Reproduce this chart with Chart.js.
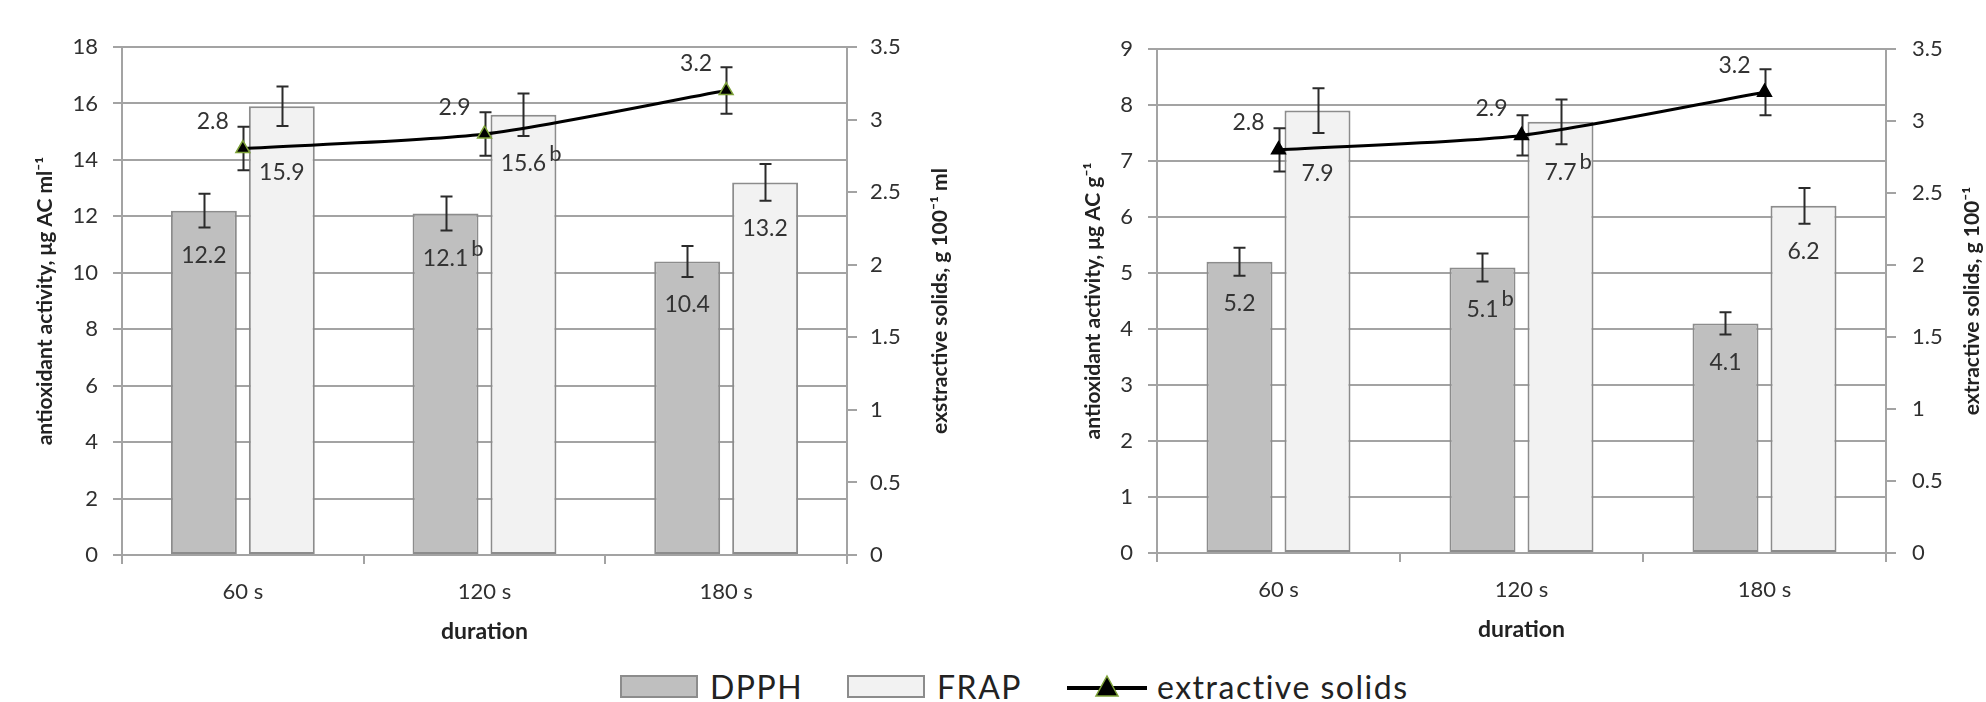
<!DOCTYPE html>
<html>
<head>
<meta charset="utf-8">
<script src="https://cdn.jsdelivr.net/npm/chart.js@4.4.1/dist/chart.umd.min.js"></script>
<style>
    body { margin: 0; background: #fff; width: 1986px; height: 702px; overflow: hidden; font-family: Lato, "Open Sans", sans-serif; }
    .panel { position: absolute; top: 0; width: 993px; height: 650px; }
    .lg { position: absolute; top: 669px; height: 34px; display: flex; align-items: center; font-size: 32px; letter-spacing: 1.5px; color: #222; }
    .sw { width: 74px; height: 19px; border: 2px solid #8c8c8c; margin-right: 12px; }
</style>
</head>
<body>
<div class="panel" style="left:0"><canvas id="chartMl" width="993" height="650"></canvas></div>
<div class="panel" style="left:993px"><canvas id="chartG" width="993" height="650"></canvas></div>
<div id="legend"></div>
<script>
// categories
const durations = ['60 s', '120 s', '180 s'];

// left panel: per ml
const dpphMl = [12.2, 12.1, 10.4];
const dpphMlErr = [0.6, 0.6, 0.55];
const frapMl = [15.9, 15.6, 13.2];
const frapMlErr = [0.7, 0.75, 0.65];
const solidsMl = [2.8, 2.9, 3.2];
const solidsMlErr = [0.15, 0.15, 0.16];

// right panel: per g
const dpphG = [5.2, 5.1, 4.1];
const dpphGErr = [0.25, 0.25, 0.2];
const frapG = [7.9, 7.7, 6.2];
const frapGErr = [0.4, 0.4, 0.32];
const solidsG = [2.8, 2.9, 3.2];
const solidsGErr = [0.15, 0.14, 0.16];

// significance letters next to the bar labels
const dpphMarks = ['', 'b', ''];
const frapMarks = ['', 'b', ''];

const GRID = '#a3a3a3';
const TXT = '#303030';
const FONT = 'Lato, "Open Sans", sans-serif';
const DPPH_FILL = '#bfbfbf';
const FRAP_FILL = '#f2f2f2';
const EDGE = '#8c8c8c';

Chart.defaults.font.family = FONT;

function drawErr(chart, i) {
    const ds = chart.data.datasets[i];
    const meta = chart.getDatasetMeta(i);
    const ys = chart.scales[meta.yAxisID];
    const ctx = chart.ctx;
    ctx.save();
    ctx.strokeStyle = '#2b2b2b';
    ctx.lineWidth = 2;
    meta.data.forEach((el, k) => {
        const top = ys.getPixelForValue(ds.data[k] + ds.errors[k]);
        const bot = ys.getPixelForValue(ds.data[k] - ds.errors[k]);
        const x = Math.round(el.x) + 0.5;
        ctx.beginPath();
        ctx.moveTo(x, top); ctx.lineTo(x, bot);
        ctx.moveTo(x - 6, top); ctx.lineTo(x + 6, top);
        ctx.moveTo(x - 6, bot); ctx.lineTo(x + 6, bot);
        ctx.stroke();
    });
    ctx.restore();
}

const errorBars = {
    id: 'errorBars',
    beforeDatasetDraw(chart, args) { if (args.meta.type === 'line') drawErr(chart, args.index); },
    afterDatasetDraw(chart, args) { if (args.meta.type === 'bar') drawErr(chart, args.index); }
};

const valueLabels = {
    id: 'valueLabels',
    afterDatasetsDraw(chart) {
        const ctx = chart.ctx;
        const pts = chart.getDatasetMeta(0).data.map(p => ({ x: p.x, y: p.y }));
        // y of the solids line at a given x (straight segments are close enough)
        const lineY = x => {
            for (let k = 0; k < pts.length - 1; k++) {
                if (x >= pts[k].x && x <= pts[k + 1].x) {
                    const t = (x - pts[k].x) / (pts[k + 1].x - pts[k].x);
                    return pts[k].y + t * (pts[k + 1].y - pts[k].y);
                }
            }
            return -1e9;
        };
        ctx.save();
        ctx.fillStyle = '#333';
        ctx.textBaseline = 'middle';
        chart.data.datasets.forEach((ds, i) => {
            const meta = chart.getDatasetMeta(i);
            const ys = chart.scales[meta.yAxisID];
            meta.data.forEach((el, k) => {
                const txt = ds.data[k].toFixed(1);
                ctx.font = '23px ' + FONT;
                if (meta.type === 'line') {
                    ctx.textAlign = 'right';
                    ctx.fillText(txt, el.x - 14, el.y - 27);
                    return;
                }
                const y = Math.max(ys.getPixelForValue(ds.data[k] - ds.errors[k]) + 28, lineY(el.x) + 26);
                ctx.textAlign = 'center';
                ctx.fillText(txt, el.x, y);
                const mark = ds.marks && ds.marks[k];
                if (mark) {
                    const w = ctx.measureText(txt).width;
                    ctx.textAlign = 'left';
                    ctx.font = '22px ' + FONT;
                    ctx.fillText(mark, el.x + w / 2 + 3, y - 10);
                }
            });
        });
        ctx.restore();
    }
};

// right-hand axis title, rotated like the left one
const sideTitle = {
    id: 'sideTitle',
    afterDraw(chart, args, opts) {
        const ctx = chart.ctx;
        const a = chart.chartArea;
        ctx.save();
        ctx.translate(opts.x, (a.top + a.bottom) / 2);
        ctx.rotate(-Math.PI / 2);
        ctx.font = 'bold 21px ' + FONT;
        ctx.fillStyle = '#222';
        ctx.textAlign = 'center';
        ctx.textBaseline = 'middle';
        ctx.fillText(opts.text, 0, 0);
        ctx.restore();
    }
};

function makePanel(id, p) {
    return new Chart(document.getElementById(id), {
        type: 'bar',
        data: {
            labels: durations,
            datasets: [
                {
                    type: 'line', label: 'extractive solids', data: p.solids, errors: p.solidsErr, yAxisID: 'y2',
                    borderColor: '#000', borderWidth: 3, tension: 0.25,
                    pointStyle: 'triangle', pointRadius: 8, pointBackgroundColor: '#000',
                    pointBorderColor: p.markerEdge, pointBorderWidth: 1.5
                },
                {
                    label: 'DPPH', data: p.dpph, errors: p.dpphErr, marks: dpphMarks, yAxisID: 'y',
                    backgroundColor: DPPH_FILL, borderColor: EDGE, borderWidth: 2, borderSkipped: false,
                    categoryPercentage: p.cp, barPercentage: 0.846
                },
                {
                    label: 'FRAP', data: p.frap, errors: p.frapErr, marks: frapMarks, yAxisID: 'y',
                    backgroundColor: FRAP_FILL, borderColor: EDGE, borderWidth: 2, borderSkipped: false,
                    categoryPercentage: p.cp, barPercentage: 0.846
                }
            ]
        },
        options: {
            responsive: false,
            animation: false,
            layout: { padding: p.pad },
            plugins: {
                legend: { display: false },
                tooltip: { enabled: false },
                sideTitle: p.side
            },
            scales: {
                x: {
                    offset: true,
                    grid: { offset: true, drawOnChartArea: false, color: GRID, lineWidth: 2, tickLength: 9 },
                    border: { color: GRID, width: 2 },
                    ticks: { color: TXT, font: { size: 22 }, padding: 15 },
                    title: { display: true, text: 'duration', color: '#222', font: { size: 23, weight: 'bold' }, padding: 0 },
                    afterFit: s => { s.height = 90; }
                },
                y: {
                    position: 'left', min: 0, max: p.yMax,
                    ticks: { stepSize: p.yStep, color: TXT, font: { size: 22 }, padding: 15 },
                    grid: { color: GRID, lineWidth: 2, tickLength: 9 },
                    border: { color: GRID, width: 2 },
                    title: { display: true, text: p.yTitle, color: '#222', font: { size: 21, weight: 'bold' }, padding: 0 },
                    afterFit: s => { s.width = p.yWidth; }
                },
                y2: {
                    position: 'right', min: 0, max: 3.5,
                    ticks: { stepSize: 0.5, color: TXT, font: { size: 22 }, padding: p.y2Pad, callback: v => String(v) },
                    grid: { drawOnChartArea: false, color: GRID, lineWidth: 2, tickLength: 10 },
                    border: { color: GRID, width: 2 },
                    afterFit: s => { s.width = p.y2Width; }
                }
            }
        },
        plugins: [errorBars, valueLabels, sideTitle]
    });
}

makePanel('chartMl', {
    dpph: dpphMl, dpphErr: dpphMlErr, frap: frapMl, frapErr: frapMlErr,
    solids: solidsMl, solidsErr: solidsMlErr, markerEdge: '#7fa33a',
    yMax: 18, yStep: 2, yTitle: 'antioxidant activity, μg AC ml⁻¹',
    pad: { left: 33, right: 41, top: 47, bottom: 5 }, yWidth: 89, y2Width: 105, y2Pad: 13, cp: 0.645,
    side: { text: 'exstractive solids, g 100⁻¹ ml', x: 940 }
});

makePanel('chartG', {
    dpph: dpphG, dpphErr: dpphGErr, frap: frapG, frapErr: frapGErr,
    solids: solidsG, solidsErr: solidsGErr, markerEdge: '#000',
    yMax: 9, yStep: 1, yTitle: 'antioxidant activity, μg AC g⁻¹',
    pad: { left: 88, right: 2, top: 49, bottom: 7 }, yWidth: 76, y2Width: 98, y2Pad: 16, cp: 0.642,
    side: { text: 'extractive solids, g 100⁻¹', x: 979 }
});

// shared legend under both panels
const legend = document.getElementById('legend');
[
    { left: 620, text: 'DPPH', fill: DPPH_FILL },
    { left: 847, text: 'FRAP', fill: FRAP_FILL },
    { left: 1067, text: 'extractive solids', line: true }
].forEach(it => {
    const d = document.createElement('div');
    d.className = 'lg';
    d.style.left = it.left + 'px';
    if (it.line) {
        d.innerHTML = '<svg width="84" height="26" style="margin-right:6px"><line x1="0" y1="15" x2="80" y2="15" stroke="#000" stroke-width="4"/>' +
            '<polygon points="40,3 51,23 29,23" fill="#000" stroke="#7fa33a" stroke-width="1.5"/></svg>';
    } else {
        const sw = document.createElement('div');
        sw.className = 'sw';
        sw.style.background = it.fill;
        d.appendChild(sw);
    }
    d.appendChild(document.createTextNode(it.text));
    legend.appendChild(d);
});
</script>
</body>
</html>
